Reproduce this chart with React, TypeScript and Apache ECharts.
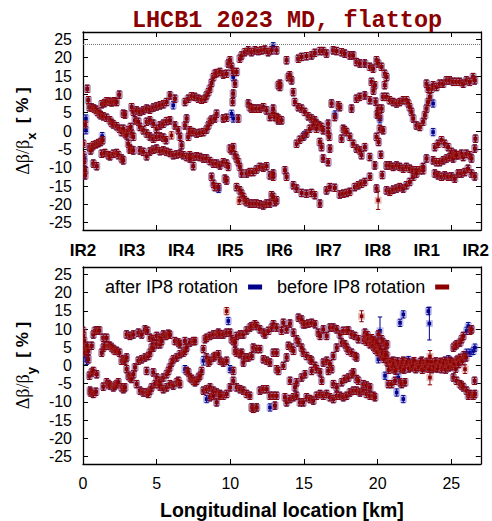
import React, { useEffect, useRef } from "react";
import * as echarts from "echarts";

// ---------- data (s in km, Δβ/β in %, optional 3rd value = error bar) ----------
const X_TICKS = [0, 5, 10, 15, 20, 25];
const Y_TICKS = [-25, -20, -15, -10, -5, 0, 5, 10, 15, 20, 25];
const IR_POS = [0, 3.33, 6.66, 10.0, 13.33, 16.66, 20.0, 23.33, 26.66];
const IR_NAMES = ["IR2", "IR3", "IR4", "IR5", "IR6", "IR7", "IR8", "IR1", "IR2"];
const REF_LINE = 23.6;
const DEFAULT_ERR = 1.0;

// Horizontal plane: points common to both measurements
const sharedX: number[][] = [
  [0.02,-3.5],[0.02,-6.6],[0.07,-8.5],[0.14,-10.7],[0.14,-12.1],[0.29,11.5],[0.36,8.4],[0.43,6.5],[0.43,-4.4],[0.52,-5.3],
  [0.59,6.4],[0.59,-4.4],[0.75,6.1],[0.7,-3.9],[0.88,5.8],[0.88,-3.6],[0.97,5.2],[1.04,-3.3],[1.11,4.7],[1.2,4.3],
  [1.2,-3.0],[1.33,-2.5],[0.7,-8.9],[0.93,-9.6],[1.27,7.3],[1.45,7.6],[1.6,8.1],[1.79,8.0],[1.94,7.8],[2.12,8.1],
  [2.28,7.9],[2.46,9.9],[1.38,4.0],[1.6,3.6],[1.83,2.9],[1.94,2.2],[2.06,1.8],[2.28,1.3],[2.46,0.6],[2.62,-0.3],
  [1.27,-6.2],[1.49,-6.0],[1.72,-6.6],[1.83,-6.9],[2.06,-6.2],[2.28,-6.0],[2.4,-6.6],[2.62,-7.5],[2.73,-8.0],[2.73,0.6],
  [2.85,-0.7],[2.96,-1.2],[3.07,0.2],[3.23,1.1],[3.3,-0.7],[3.41,-1.6],[3.07,-3.5],[3.19,-4.8],[2.73,4.7],[2.85,4.5],
  [3.3,6.5],[3.41,5.2],[3.64,5.6],[3.86,5.2],[4.09,5.6],[4.32,6.1],[4.54,5.8],[4.77,6.4],[4.99,6.7],[5.22,7.0],
  [5.45,7.3],[5.67,7.9],[5.9,9.7],[6.24,8.8],[3.53,2.9],[3.75,2.5],[3.86,1.1],[4.09,0.2],[4.32,-0.7],[4.54,-1.5],
  [4.77,-2.1],[4.99,-1.6],[5.22,-1.5],[5.45,-1.8],[5.63,-2.5],[4.32,2.5],[4.54,2.9],[4.77,2.0],[4.99,0.6],[5.22,1.5],
  [5.45,2.0],[5.67,2.7],[5.9,2.9],[3.19,-5.1],[3.41,-5.3],[3.86,-5.3],[4.09,-5.7],[4.32,-6.9],[4.54,-5.6],[4.77,-5.1],
  [4.99,-4.8],[5.22,-5.5],[5.45,-5.3],[5.67,-5.7],[5.9,-6.0],[6.12,-6.6],[6.35,-6.4],[6.58,-6.2],[6.8,-6.6],[6.24,1.5],
  [6.46,0.2],[6.58,-1.6],[6.69,-3.9],[6.92,1.5],[7.03,3.4],[7.14,-1.6],[7.25,0.2],[7.03,-7.1],[7.25,-6.6],[7.48,-7.1],
  [7.48,-9.6],[6.92,7.9],[7.14,8.8],[7.37,9.5],[7.59,9.3],[7.82,8.8],[8.05,8.5],[8.27,8.8],[8.38,9.7],[8.5,10.6],
  [8.61,11.5],[8.72,13.1],[8.84,14.7],[8.95,15.6],[9.06,15.8],[9.29,16.1],[9.51,15.4],[9.74,15.6],[9.85,18.4],[9.97,19.3],
  [10.08,17.5],[10.19,16.1],[10.31,12.9],[10.19,10.2],[10.15,7.9],[10.42,16.1],[7.25,-0.3],[7.48,-0.3],[7.71,-0.7],[7.93,-0.5],
  [8.16,-0.3],[8.38,0.4],[8.5,1.5],[8.61,2.5],[8.72,3.1],[8.95,3.4],[9.06,4.7],[9.51,3.4],[9.74,3.6],[10.53,3.4],
  [7.25,-7.5],[7.71,-6.9],[7.93,-7.1],[8.16,-7.5],[8.38,-7.5],[8.61,-8.2],[8.84,-8.9],[9.06,-8.9],[9.29,-9.4],[9.51,-8.5],
  [9.74,-8.9],[9.85,-9.8],[9.97,-4.8],[10.08,-5.3],[10.19,-4.4],[10.31,-6.6],[10.42,-7.5],[10.53,-8.5],[10.64,-9.8],[10.76,-11.6],
  [8.72,-12.5],[8.84,-14.4],[8.95,-15.3],[9.18,-15.3],[9.63,-13.0],[9.74,-13.5],[10.42,-15.3],[10.64,-16.2],[10.76,-17.1],[10.87,-18.0],
  [10.98,-18.9],[11.1,-19.4],[11.32,-19.8],[11.55,-19.8],[11.77,-19.8],[12.0,-20.0],[12.23,-20.3],[12.45,-19.8],[12.68,-19.8],[12.79,-17.5],
  [13.02,-19.4],[13.13,-18.9],[11.1,-11.6],[11.32,-11.2],[11.55,-11.2],[11.77,-10.5],[12.0,-9.8],[12.23,-10.0],[12.45,-9.6],[12.68,-12.1],
  [12.9,-12.5],[10.64,19.7],[10.76,20.6],[10.98,21.5],[11.21,22.0],[11.43,21.5],[11.66,22.0],[11.89,21.8],[12.11,22.0],[12.34,22.2],
  [12.56,21.5],[12.79,22.0],[13.13,22.0],[13.24,12.5],[11.21,7.5],[11.32,6.5],[11.43,6.1],[11.55,6.1],[11.77,6.1],[12.0,6.1],
  [12.23,6.5],[12.45,5.6],[12.68,3.8],[12.9,4.7],[13.13,3.8],[13.24,2.9],
  [13.81,19.3],[14.6,19.7],[14.83,20.2],[15.16,20.4],[15.5,20.6],[15.73,21.3],[16.07,21.8],[16.29,21.8],[16.52,21.1],[16.97,22.0],
  [17.2,21.8],[17.54,21.5],[17.76,21.1],[18.1,20.6],[18.33,20.6],[18.55,18.8],[18.78,18.4],[19.12,18.4],[19.46,17.5],[19.68,17.0],
  [19.91,19.3],[20.02,18.4],[20.25,17.5],[20.47,15.6],[20.59,14.7],[13.36,12.9],[13.36,12.0],[13.92,14.7],[14.03,15.2],[14.15,13.8],
  [14.26,10.6],[14.37,7.9],[14.6,6.5],[14.83,6.1],[15.05,5.2],[15.28,4.0],[15.5,3.4],[15.73,2.9],[15.84,2.0],[16.02,1.5],
  [16.18,1.1],[16.29,0.2],[14.49,-3.5],[14.71,-2.4],[14.94,-1.6],[15.16,-0.7],[15.39,0.6],[15.62,1.5],[15.84,0.6],[16.07,-3.0],
  [16.18,-4.4],[13.7,-10.7],[13.81,-12.5],[14.26,-14.8],[14.49,-15.7],[14.83,-16.9],[15.16,-17.1],[15.5,-16.9],[15.73,-17.5],[16.07,-19.8],
  [16.52,-16.2],[16.75,-15.3],[17.08,-15.5],[17.42,-17.3],[17.65,-17.1],[17.88,-16.9],[18.1,-16.6],[18.44,-15.3],[18.67,-14.8],[18.89,-14.4],
  [19.12,-13.9],[19.46,-12.5],[19.91,-15.7],[16.63,2.0],[16.63,-0.3],[16.7,-1.6],[16.75,-4.8],[16.86,7.5],[17.08,3.8],[17.31,7.0],
  [17.42,6.5],[17.54,-2.1],[17.65,0.6],[17.76,0.2],[17.88,-0.3],[18.1,-1.6],[18.22,6.1],[18.33,-3.5],[18.55,-4.8],[18.78,-5.3],
  [18.89,-6.6],[19.12,-4.4],[19.46,-7.1],[18.55,8.8],[18.78,9.3],[19.12,9.7],[19.46,8.4],[19.91,-1.6],[20.14,0.6],[20.36,0.2],
  [16.29,-7.5],[16.63,-8.5],[19.8,-9.4],[20.59,-9.4],[20.81,-9.4],[21.04,-9.8],[21.27,-9.4],[21.49,-9.8],[21.72,-10.3],[21.94,-9.8],
  [22.17,-10.3],[22.4,-10.7],[22.62,-10.7],[22.85,-10.7],[23.07,-10.7],[19.57,13.4],[19.8,12.5],[20.02,6.1],[20.14,3.8],[20.25,6.1],
  [20.36,9.3],[20.47,12.5],[20.59,9.3],[20.81,8.4],[21.04,7.9],[21.27,7.5],[21.49,7.9],[21.72,8.4],[21.94,8.4],[22.06,7.5],
  [22.17,6.5],[22.28,5.2],[22.4,3.4],[22.62,1.5],[22.85,1.1],[23.07,2.5],[23.19,4.3],[23.3,6.1],[23.41,7.9],[23.53,9.3],
  [23.64,11.5],[23.75,12.5],[23.98,12.0],[24.2,12.9],[24.43,12.9],[24.66,13.8],[24.88,13.8],[25.11,13.4],[25.33,13.4],[25.56,13.4],
  [25.79,12.9],[26.01,13.8],[26.24,13.4],[26.46,14.7],[26.58,13.8],[23.3,12.9],[23.41,11.5],[20.59,-16.2],[20.81,-16.6],[21.04,-16.0],
  [21.27,-15.7],[21.49,-15.3],[21.72,-15.7],[21.94,-14.8],[22.17,-13.9],[22.4,-12.5],[22.62,-11.6],[23.07,-9.8],[23.3,-7.5],[23.87,-4.4],
  [24.09,-3.5],[24.32,-2.5],[24.54,-3.5],[24.77,-4.4],[25.0,-5.7],[25.22,-6.2],[25.45,-6.6],[25.67,-6.2],[25.79,-7.1],[26.01,-6.2],
  [26.24,-6.6],[26.35,-7.5],[26.58,-4.8],[26.62,-2.1],[23.75,-8.0],[23.98,-8.5],[24.2,-8.5],[24.43,-8.0],[24.66,-7.5],[24.88,-7.1],
  [25.11,-7.5],[25.33,-6.6],[23.87,-11.6],[24.09,-12.1],[24.32,-12.5],[24.54,-12.1],[24.77,-12.5],[25.0,-12.4],[25.22,-13.0],[25.45,-11.6],
  [25.67,-11.6],[25.9,-11.2],[26.12,-10.3],[26.35,-11.6],[26.58,-12.4],[13.02,3.8],[13.25,3.4],[13.47,2.9],[12.9,6.1],[12.9,-11.6],
  [12.9,-18.0],[19.7,11.0],[19.85,8.0],[19.95,4.5],[20.05,-3.0],[20.2,-6.5],[20.3,-12.0],
];
const afterOnlyX: number[][] = [
  [0.2,3.4],[0.2,0.2],[6.12,7.0],[10.08,4.7],[10.19,3.4],[12.9,23.1],[23.75,7.5],[23.75,-0.3],[10.19,14.7],[20.14,3.2],
  [0.1,-7.4],[1.3,-1.4],[15.0,-1.2],[17.1,4.5],[9.2,-15.8],
];
const beforeOnlyX: number[][] = [
  [0.16,1.8],[20.02,-18.9,2.5],[6.0,-1.2],[10.6,-19.0],
];

// Vertical plane
const sharedY: number[][] = [
  [0.0,9.5],[0.02,8.1],[0.07,6.7],[0.14,4.9],[0.14,3.5],[0.29,5.4],[0.36,4.0],[0.36,1.7],[0.43,-2.8],[0.48,-6.9],
  [0.52,-7.4],[0.7,-7.8],[0.88,-7.2],[0.59,-1.9],[0.7,-1.5],[0.93,-2.4],[0.59,5.4],[0.7,8.5],[0.81,9.5],[0.93,9.6],
  [1.11,9.6],[1.27,3.5],[1.38,4.9],[1.38,7.6],[1.49,5.4],[1.6,7.6],[1.72,5.4],[1.83,5.4],[1.95,4.9],[2.06,4.5],
  [2.17,4.0],[2.29,4.0],[2.47,3.5],[2.62,1.3],[2.74,1.7],[2.85,1.3],[2.96,2.2],[1.38,-5.8],[1.61,-4.6],[1.72,-5.1],
  [1.83,-5.5],[2.06,-6.0],[2.17,-5.5],[2.29,-5.1],[2.4,-4.6],[2.62,-6.0],[2.74,-6.5],[2.85,-6.0],[3.08,-2.8],[3.19,-3.3],
  [3.3,-3.7],[3.42,-2.4],[3.53,-0.5],[3.76,1.3],[3.87,-6.9],[4.1,-7.4],[4.32,-7.4],[4.43,-7.8],[4.55,-6.9],[2.96,8.5],
  [3.19,8.1],[3.42,8.5],[3.76,9.0],[3.98,8.5],[4.21,9.9],[4.37,9.5],[4.55,7.6],[4.77,7.2],[5.0,8.1],[5.23,7.6],
  [5.45,8.5],[5.63,8.1],[5.79,8.7],[5.9,8.4],[6.24,6.7],[6.47,6.3],[6.58,5.8],[6.92,6.7],[7.26,6.3],[7.49,6.7],
  [7.6,6.7],[3.98,1.7],[4.21,2.2],[4.43,2.6],[4.55,3.5],[4.66,4.9],[4.77,4.9],[5.0,5.8],[5.23,5.8],[5.34,6.7],
  [2.96,-1.0],[3.64,-5.1],[4.66,-6.0],[4.89,-5.1],[5.11,-5.1],[5.23,-5.8],[5.45,-6.5],[5.68,-6.0],[5.9,-5.1],[6.13,-5.5],
  [6.36,-4.6],[6.47,-4.2],[6.58,-5.1],[4.32,-1.5],[4.77,-1.9],[5.0,-3.3],[5.23,-4.2],[5.45,-3.3],[5.68,-2.4],[5.79,-1.5],
  [5.9,-0.5],[6.02,0.8],[6.13,1.7],[6.36,2.2],[6.58,3.1],[6.81,3.5],[6.92,4.0],[7.04,4.9],[7.04,-1.5],[7.15,-1.9],
  [7.26,-3.3],[7.38,-3.7],[7.49,-4.2],[7.6,-4.6],[7.71,-4.2],[7.83,-3.3],[7.94,-2.8],[8.05,-1.5],[8.28,7.2],[8.39,7.6],
  [8.62,8.1],[8.85,8.5],[9.07,8.5],[9.19,9.0],[9.3,8.5],[9.52,8.5],[9.75,9.0],[9.98,9.0],[10.09,7.2],[10.2,6.7],
  [10.32,6.3],[10.43,8.1],[10.66,8.5],[10.88,8.5],[11.11,9.6],[11.33,10.4],[11.45,10.8],[11.67,11.3],[11.79,10.8],[12.01,9.9],
  [12.24,9.0],[12.35,8.5],[12.58,9.5],[12.81,10.4],[12.92,11.3],[13.14,10.4],[8.17,4.5],[8.39,2.2],[8.51,0.8],[8.62,1.3],
  [8.85,2.2],[8.96,2.6],[9.19,3.1],[9.3,1.3],[9.52,0.8],[9.75,1.3],[10.2,-1.5],[10.32,4.0],[10.43,3.5],[10.66,3.1],
  [10.77,3.5],[10.88,0.8],[11.0,2.2],[11.22,2.2],[11.45,2.6],[11.56,4.9],[11.79,4.5],[12.01,4.5],[12.24,1.7],[12.47,1.3],
  [12.69,0.8],[12.92,3.5],[13.14,3.5],[8.17,-6.9],[8.39,-6.5],[8.62,-6.0],[8.85,-6.9],[9.07,-7.4],[9.3,-7.8],[9.52,-8.3],
  [9.75,-7.8],[9.98,-6.0],[10.2,-4.2],[10.43,-6.0],[10.66,-6.5],[10.88,-6.9],[11.11,-7.8],[11.33,-8.3],[11.45,-11.5],[11.56,-11.9],
  [11.79,-11.5],[12.01,-6.9],[12.24,-6.5],[12.47,-6.5],[12.69,-8.3],[12.92,-8.3],[13.03,-11.0],[13.14,-8.3],[8.62,-8.7],[8.85,-8.3],
  [9.07,-10.1],[9.3,-8.3],
  [13.48,9.5],[13.6,11.7],[13.82,9.9],[14.05,11.5],[14.28,9.0],[14.62,13.1],[14.84,12.6],[14.95,11.3],[15.07,11.3],[15.29,11.5],
  [15.52,11.7],[15.75,11.3],[15.97,9.0],[16.09,8.1],[16.31,9.9],[16.54,8.1],[16.76,10.4],[16.99,10.4],[17.22,9.9],[17.44,8.5],
  [17.67,9.5],[17.9,9.5],[18.01,9.6],[18.24,8.5],[18.46,8.1],[18.69,7.2],[19.14,9.0],[19.37,6.7],[19.48,5.8],[19.71,6.7],
  [19.93,6.3],[20.05,8.5],[20.27,7.2],[20.38,6.3],[20.5,5.4],[20.63,5.8],[13.71,-8.7],[13.82,-10.1],[14.05,-9.2],[14.28,-8.7],
  [14.5,-8.3],[14.73,-10.1],[14.95,-10.1],[15.18,-8.7],[15.41,-9.2],[15.63,-9.6],[15.86,-8.3],[16.09,-7.8],[16.31,-8.3],[16.54,-7.8],
  [16.76,-8.7],[16.99,-9.2],[17.22,-8.3],[17.44,-8.3],[17.67,-8.7],[17.9,-8.3],[18.12,-7.4],[18.35,-6.9],[18.57,-6.9],[18.8,-7.4],
  [19.03,-6.9],[19.25,-7.8],[19.48,-8.3],[19.71,-8.3],[19.82,-8.7],[13.94,5.4],[14.16,4.9],[14.28,4.0],[14.5,7.2],[14.62,6.3],
  [14.84,4.9],[14.95,3.5],[15.18,2.6],[15.41,1.7],[15.52,1.3],[15.75,-0.1],[15.86,-1.0],[16.09,-1.9],[16.2,-4.2],[16.31,0.8],
  [16.54,1.3],[16.76,0.4],[16.88,-1.0],[16.99,2.6],[17.22,4.9],[17.56,6.3],[17.78,5.8],[17.9,4.9],[18.01,4.0],[18.24,3.5],
  [18.46,2.6],[18.57,2.2],[13.14,-1.0],[13.26,-1.5],[13.6,-0.1],[13.82,2.2],[14.05,-4.2],[14.39,-6.0],[14.5,-4.6],[14.84,-3.3],
  [15.07,-2.4],[15.52,-1.5],[16.65,-1.5],[16.99,-5.1],[17.22,-6.0],[17.56,-4.6],[17.78,-3.7],[18.01,-3.3],[18.24,-2.4],[18.35,-1.9],
  [18.57,-3.7],[18.69,-4.2],[19.03,-5.1],[19.25,-5.5],[19.48,-6.0],[19.82,4.9],[19.93,5.4],[20.16,3.1],[20.72,0.8],[21.06,1.3],
  [21.18,-0.5],[21.29,-0.1],[20.5,3.5],[20.63,2.6],[20.72,-5.1],[20.95,-5.1],[21.18,-4.2],[21.52,-4.6],[21.63,-5.1],[21.86,-4.6],
  [20.84,-0.5],[21.06,-1.0],[21.29,0.4],[21.52,-0.1],[21.74,1.3],[21.97,0.4],[22.19,-0.1],[22.42,0.8],[22.65,-0.5],[22.87,0.4],
  [23.1,-0.1],[23.33,0.8],[23.55,0.4],[23.78,-0.5],[24.0,0.4],[24.23,0.8],[24.46,-0.1],[24.68,0.8],[24.91,1.3],[25.14,0.8],
  [25.36,1.3],[20.95,0.4],[21.63,-1.0],[22.3,-0.5],[22.99,1.3],[23.67,-1.0],[24.34,-1.0],[25.02,-0.1],[22.53,0.4],[23.21,-0.7],
  [23.89,-0.7],[24.57,1.3],[25.14,4.9],[25.25,5.4],[25.36,5.8],[25.59,6.3],[25.7,7.2],[25.82,8.1],[26.27,9.5],[26.38,9.9],
  [25.14,-3.3],[25.36,-4.2],[25.59,-5.1],[25.7,-5.5],[25.82,-6.0],[26.04,-6.9],[26.15,-8.3],[26.27,-7.8],[26.49,-8.3],[26.6,-7.8],
  [26.58,-4.2],
  // dense flat band after IR8
  [20.65,0.9],[20.75,-1.2],[20.9,1.0],[21.0,-0.2],[21.12,0.6],[21.22,-1.4],[21.35,1.1],[21.45,0.2],[21.58,-0.6],[21.68,0.9],
  [21.8,-1.1],[21.9,0.3],[22.02,1.0],[22.12,-0.8],[22.25,0.5],[22.36,-0.3],[22.47,1.2],[22.58,-1.0],[22.7,0.2],[22.8,-0.4],
  [22.92,0.9],[23.03,-1.2],[23.15,0.4],[23.27,-0.2],[23.4,1.0],[23.48,-0.9],[23.6,0.1],[23.72,0.9],[23.84,-0.3],[23.95,1.1],
  [24.06,-0.8],[24.15,0.2],[24.28,1.0],[24.4,-0.4],[24.5,0.6],[24.62,-1.1],[24.74,0.3],[24.85,-0.5],[24.97,1.0],[25.08,-0.2],
  [25.2,0.5],[25.3,-0.9],[25.42,1.6],[25.5,0.4],[25.6,2.1],[25.75,1.2],[25.85,2.8],[26.0,2.2],
  // IR8 cluster
  [19.05,7.0],[19.15,7.8],[19.25,6.5],[19.3,8.3],[19.4,7.2],[19.55,6.0],[19.6,7.5],[19.7,5.2],[19.75,6.8],[19.85,4.3],
  [19.95,6.0],[20.0,3.8],[20.1,5.0],[20.2,4.4],[20.25,2.5],[20.35,3.4],[20.42,1.8],[20.55,2.9],
];
const afterOnlyY: number[][] = [
  [0.2,2.2],[0.25,1.3],[6.92,-1.0],[8.17,1.3,1.2],[9.86,12.2],[9.98,-1.0],[8.39,-9.2],[20.05,1.7],[20.16,9.5,3.8],[20.5,-2.8],
  [21.29,-7.4],[21.4,-3.3],[21.74,-9.2],[21.52,11.7],[21.74,14.0],[23.44,14.9],[23.51,11.5,4.5],[26.04,9.5],[26.15,10.8],[26.04,3.5],
  [26.27,3.5],[26.49,4.0],[26.6,4.9],[12.69,-11.5],[19.2,7.2],[19.9,5.1],[22.1,1.5],[24.8,1.7],
];
const beforeOnlyY: number[][] = [
  [9.75,14.9],[18.91,13.5,1.5],[23.55,-3.3,2.0],[23.55,2.5,1.6],[25.93,-1.0,1.2],
];

const afterX = [...sharedX, ...afterOnlyX];
const beforeX = [...sharedX, ...beforeOnlyX];
const afterY = [...sharedY, ...afterOnlyY];
const beforeY = [...sharedY, ...beforeOnlyY];

const BLUE = "#00008b";
const RED = "#8b0000";
const BLUE_HALO = "rgba(70,70,210,0.35)";
const RED_HALO = "rgba(180,70,70,0.35)";
const SANS = "Liberation Sans, Arial, sans-serif";

const withErr = (pts: number[][]) => pts.map((p) => [p[0], p[1], p[2] ?? DEFAULT_ERR]);

const makeRender = (color: string, halo: string) => (params: any, api: any) => {
  const s = api.value(0);
  const v = api.value(1);
  const e = api.value(2);
  const p = api.coord([s, v]);
  const hi = api.coord([s, v + e]);
  const lo = api.coord([s, v - e]);
  const c = 2.2;
  const ls = { stroke: color, lineWidth: 1 };
  return {
    type: "group",
    children: [
      { type: "rect", shape: { x: p[0] - 3.5, y: p[1] - 3.5, width: 7, height: 7 }, style: { fill: halo } },
      { type: "line", shape: { x1: p[0], y1: hi[1], x2: p[0], y2: lo[1] }, style: ls },
      { type: "line", shape: { x1: p[0] - c, y1: hi[1], x2: p[0] + c, y2: hi[1] }, style: ls },
      { type: "line", shape: { x1: p[0] - c, y1: lo[1], x2: p[0] + c, y2: lo[1] }, style: ls },
      { type: "rect", shape: { x: p[0] - 1.8, y: p[1] - 1.8, width: 3.6, height: 3.6 }, style: { fill: color } },
    ],
  };
};

const series = (name: string, data: number[][], xi: number, yi: number, color: string, halo: string, extra: any = {}) => ({
  type: "custom",
  name,
  xAxisIndex: xi,
  yAxisIndex: yi,
  clip: true,
  itemStyle: { color },
  dimensions: ["s", "v", "err"],
  encode: { x: 0, y: 1 },
  data: withErr(data),
  renderItem: makeRender(color, halo),
  ...extra,
});

const axisLine = { show: true, onZero: false, lineStyle: { color: "#000", width: 1.3 } };
const tick = { show: true, inside: true, length: 5, lineStyle: { color: "#000" } };

const xAxisBase = (gridIndex: number, position: string, showLabels: boolean) => ({
  type: "value",
  gridIndex,
  position,
  min: 0,
  max: 27,
  axisLine,
  axisTick: { ...tick, customValues: X_TICKS },
  axisLabel: showLabels
    ? { show: true, customValues: X_TICKS, color: "#000", fontSize: 16, fontFamily: SANS, margin: 11 }
    : { show: false },
  splitLine: { show: false },
});

const yAxisBase = (gridIndex: number, position: string, showLabels: boolean, name?: string) => ({
  type: "value",
  gridIndex,
  position,
  min: -27,
  max: 27,
  axisLine,
  axisTick: { ...tick, customValues: Y_TICKS },
  axisLabel: showLabels
    ? { show: true, customValues: Y_TICKS, color: "#000", fontSize: 16, fontFamily: SANS, margin: 11 }
    : { show: false },
  splitLine: { show: false },
  ...(name
    ? {
        name,
        nameLocation: "middle",
        nameGap: 49,
        nameRotate: 90,
        nameTextStyle: {
          rich: {
            a: { fontFamily: "Liberation Serif, serif", fontSize: 18, color: "#000", verticalAlign: "middle", lineHeight: 22 },
            s: { fontFamily: SANS, fontSize: 13, fontWeight: "bold", color: "#000", verticalAlign: "bottom", lineHeight: 22, padding: [0, 0, -4, 0] },
            b: { fontFamily: SANS, fontSize: 17, fontWeight: "bold", color: "#000", verticalAlign: "middle", lineHeight: 22 },
          },
        },
      }
    : {}),
});

export default function App() {
  const ref = useRef<HTMLDivElement>(null);
  useEffect(() => {
    if (!ref.current) return;
    const chart = echarts.init(ref.current, undefined, { renderer: "svg" });
    const option: any = {
      animation: false,
      backgroundColor: "#fff",
      title: {
        text: "LHCB1 2023 MD, flattop",
        left: 282,
        top: 3,
        textAlign: "center",
        textStyle: { fontFamily: "Liberation Mono, monospace", fontWeight: "bold", fontSize: 23.5, color: "#8b0000" },
      },
      legend: {
        data: [
          { name: "after IP8 rotation", icon: "rect" },
          { name: "before IP8 rotation", icon: "rect" },
        ],
        left: 100,
        top: 273,
        align: "right",
        itemWidth: 14,
        itemHeight: 5,
        itemGap: 15,
        textStyle: { fontFamily: SANS, fontSize: 18, color: "#000", padding: [0, 5, 0, 0] },
      },
      grid: [
        { left: 83, top: 32, width: 398, height: 198, show: false },
        { left: 83, top: 267, width: 398, height: 197, show: false },
      ],
      xAxis: [
        xAxisBase(0, "bottom", false),
        xAxisBase(0, "top", false),
        {
          ...xAxisBase(1, "bottom", true),
          name: "Longitudinal location [km]",
          nameLocation: "middle",
          nameGap: 36,
          nameTextStyle: { fontFamily: SANS, fontSize: 19.5, fontWeight: "bold", color: "#000" },
        },
        {
          ...xAxisBase(1, "top", false),
          axisLabel: {
            show: true,
            customValues: IR_POS,
            formatter: (v: number) => IR_NAMES[IR_POS.indexOf(v)] ?? "",
            color: "#000",
            fontSize: 17,
            fontWeight: "bold",
            fontFamily: SANS,
            margin: 8,
            hideOverlap: false,
            showMinLabel: true,
            showMaxLabel: true,
          },
        },
      ],
      yAxis: [
        yAxisBase(0, "left", true, "{a|Δβ/β}{s|x}{b|  [ % ]}"),
        yAxisBase(0, "right", false),
        yAxisBase(1, "left", true, "{a|Δβ/β}{s|y}{b|  [ % ]}"),
        yAxisBase(1, "right", false),
      ],
      series: [
        series("after IP8 rotation", afterX, 0, 0, BLUE, BLUE_HALO, {
          markLine: {
            silent: true,
            symbol: "none",
            label: { show: false },
            lineStyle: { type: "dotted", color: "#777", width: 1 },
            data: [{ yAxis: REF_LINE }],
          },
        }),
        series("before IP8 rotation", beforeX, 0, 0, RED, RED_HALO),
        series("after IP8 rotation", afterY, 2, 2, BLUE, BLUE_HALO),
        series("before IP8 rotation", beforeY, 2, 2, RED, RED_HALO),
      ],
    };
    chart.setOption(option);
    return () => chart.dispose();
  }, []);
  return <div ref={ref} style={{ position: "absolute", left: 0, top: 0, width: 492, height: 521 }} />;
}
